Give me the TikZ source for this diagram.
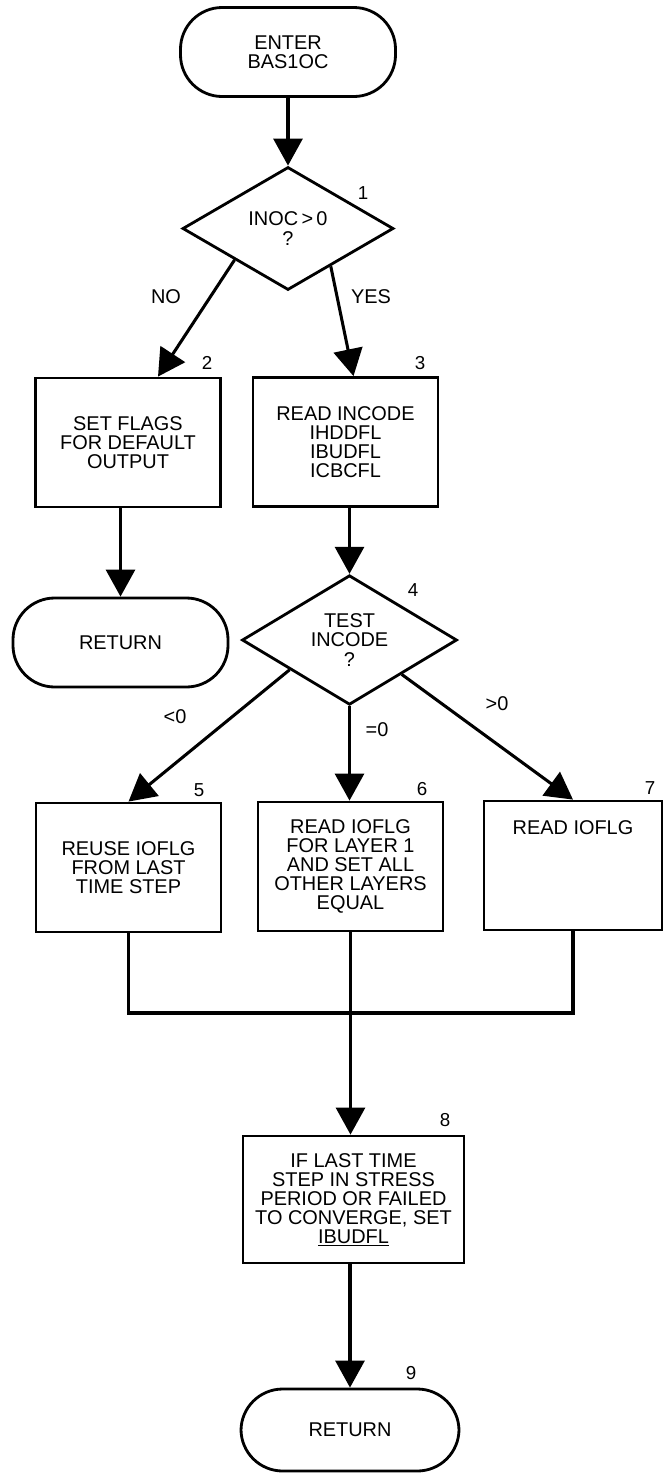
\documentclass[tikz,border=0pt]{standalone}
\usepackage{fontspec}
\setmainfont{Liberation Sans}
\usetikzlibrary{shapes.geometric,arrows.meta,calc}

\begin{document}
\begin{tikzpicture}[x=0.03cm,y=-0.03cm,
  every node/.style={font=\fontsize{17}{16.3}\selectfont},
  term/.style={draw,line width=2.4pt,rectangle,rounded corners=1.25cm,align=center,minimum width=6.45cm,minimum height=2.67cm},
  box/.style={draw,line width=2.4pt,rectangle,align=center,minimum width=5.55cm,minimum height=3.87cm},
  test/.style={draw,line width=2.4pt,diamond,align=center,inner sep=0pt},
  flow/.style={line width=2.6pt,-{Triangle[width=0.87cm,length=0.81cm]}},
  tag/.style={font=\fontsize{16}{16}\selectfont}]
\useasboundingbox (0,0) rectangle (665,1473);

\node[term] (start) at (288,52) {ENTER\\BAS1OC};
\node[test,minimum width=6.33cm,minimum height=3.69cm] (d1) at (288,228.5) {INOC\,>\,0\\?};
\node[tag] (t1) at (363,193) {1};

\node[box] (b2) at (128,442.5) {SET FLAGS\\FOR DEFAULT\\OUTPUT};
\node[tag] (t2) at (207,363) {2};
\node[box] (b3) at (345.5,442) {READ INCODE\\IHDDFL\\IBUDFL\\ICBCFL};
\node[tag] (t3) at (420,363) {3};
\node (no) at (166,297) {NO};
\node (yes) at (371,297) {YES};

\node[term] (r1) at (120.5,642.5) {RETURN};
\node[test,minimum width=6.45cm,minimum height=3.78cm] (d4) at (349.5,640) {TEST\\INCODE\\?};
\node[tag] (t4) at (413,590) {4};

\node (lt) at (175,717) {<0};
\node (eq) at (377,730) {=0};
\node (gt) at (497,704) {>0};

\node[box] (b5) at (128.5,867.5) {REUSE IOFLG\\FROM LAST\\TIME STEP};
\node[tag] (t5) at (199,790) {5};
\node[box] (b6) at (350.5,866.5) {READ IOFLG\\FOR LAYER 1\\AND SET ALL\\OTHER LAYERS\\EQUAL};
\node[tag] (t6) at (422,789) {6};
\node[box,minimum width=5.34cm,text depth=2.3cm] (b7) at (573,865.5) {READ IOFLG};
\node[tag] (t7) at (650,788) {7};

\node[box,minimum width=6.63cm,minimum height=3.81cm] (b8) at (353.5,1199.5) {IF LAST TIME\\STEP IN STRESS\\PERIOD OR FAILED\\TO CONVERGE, SET\\\underline{IBUDFL}};
\node[tag] (t8) at (445,1120) {8};
\node[term,minimum width=6.54cm,minimum height=2.46cm] (r2) at (350,1430) {RETURN};
\node[tag] (t9) at (411,1373) {9};

% connectors
\draw[flow] (start) -- (d1.north);
\draw[flow] ($(d1.west)!0.5!(d1.south)$) -- ($(b2.north)+(30,0)$);
\draw[flow] ($(d1.south)!0.4!(d1.east)$) -- ($(b3.north)+(8,0)$);
\draw[flow] (r1.north |- b2.south) -- (r1.north);
\draw[flow] (d4.north |- b3.south) -- (d4.north);
\draw[flow] ($(d4.west)!0.45!(d4.south)$) -- (b5.north);
\draw[flow] (d4.south) -- (d4.south |- b6.north);
\draw[flow] ($(d4.south)!0.48!(d4.east)$) -- (b7.north);

\coordinate (mj) at (350.5,1013);
\draw[line width=2.6pt] (b5.south) |- (mj) -| (b7.south);
\draw[flow] (b6.south) -- (b6.south |- b8.north);
\draw[flow] (r2.north |- b8.south) -- (r2.north);
\end{tikzpicture}
\end{document}
